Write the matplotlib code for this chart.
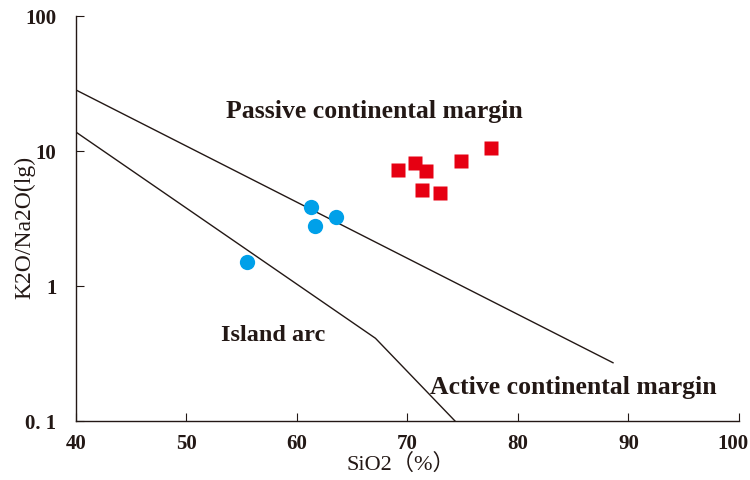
import matplotlib
matplotlib.use("Agg")
import matplotlib.pyplot as plt
from matplotlib.ticker import FixedLocator, FixedFormatter
from matplotlib.transforms import ScaledTranslation

# Data
passive_sio2 = [69.1, 70.7, 71.7, 71.3, 72.9, 74.8, 77.6]
passive_ratio = [7.2, 8.2, 7.1, 5.1, 4.9, 8.4, 10.5]
arc_sio2 = [61.3, 63.5, 61.6, 55.5]
arc_ratio = [3.87, 3.26, 2.80, 1.51]

# Boundary lines
upper_x = [40, 88.6]
upper_y = [28.3, 0.27]
lower_x = [40, 67.1, 74.3]
lower_y = [13.8, 0.41, 0.1]

x_ticks = [40, 50, 60, 70, 80, 90, 100]
y_ticks = [0.1, 1, 10, 100]
y_ticklabels = ["0. 1", "1", "10", "100"]

ink = "#231815"
serif = ["Liberation Serif", "DejaVu Serif"]

fig = plt.figure(figsize=(7.5, 4.81), dpi=100)
ax = fig.add_axes([0.1013, 0.1227, 0.884, 0.8420])

ax.plot(upper_x, upper_y, color=ink, lw=1.0)
ax.plot(lower_x, lower_y, color=ink, lw=1.0)

ax.plot(arc_sio2, arc_ratio, "o", color="#00A0E9", ms=11, mec="none", zorder=3)
ax.plot(passive_sio2, passive_ratio, "s", color="#E60012", ms=10, mec="none", zorder=3)

ax.set_yscale("log")
ax.set_xlim(40, 100)
ax.set_ylim(0.1, 100)

ax.xaxis.set_major_locator(FixedLocator(x_ticks))
ax.set_xticklabels([str(t) for t in x_ticks])
ax.yaxis.set_major_locator(FixedLocator(y_ticks))
ax.yaxis.set_major_formatter(FixedFormatter(y_ticklabels))
ax.yaxis.set_minor_locator(FixedLocator([]))

ax.tick_params(direction="in", length=6, width=0.8, color=ink, labelcolor=ink)
ax.tick_params(axis="x", pad=9)
ax.tick_params(axis="y", pad=14)
for lab in ax.get_xticklabels() + ax.get_yticklabels():
    lab.set_family(serif)
    lab.set_fontsize(15)
    lab.set_fontweight("bold")
xl = ax.get_xticklabels()
xl[-1].set_transform(xl[-1].get_transform() + ScaledTranslation(-6 / 100, 0, fig.dpi_scale_trans))

for s in ["top", "right"]:
    ax.spines[s].set_visible(False)
for s in ["left", "bottom"]:
    ax.spines[s].set_color(ink)
    ax.spines[s].set_linewidth(1.0)

ax.set_xlabel("SiO2（%）", family=["Liberation Serif", "Noto Sans CJK SC"], fontsize=16, color=ink)
ax.xaxis.set_label_coords(0.49, -0.078)
ax.set_ylabel("K2O/Na2O(lg)", family=serif, fontsize=17, color=ink)
ax.yaxis.set_label_coords(-0.062, 0.48)

ax.text(67.0, 19.8, "Passive continental margin", family=serif, fontsize=18.5, fontweight="bold",
        color=ink, ha="center", va="center")
ax.text(57.8, 0.44, "Island arc", family=serif, fontsize=17.5, fontweight="bold",
        color=ink, ha="center", va="center")
ax.text(85.0, 0.179, "Active continental margin", family=serif, fontsize=18.5, fontweight="bold",
        color=ink, ha="center", va="center")

fig.savefig("out.png", dpi=100)
